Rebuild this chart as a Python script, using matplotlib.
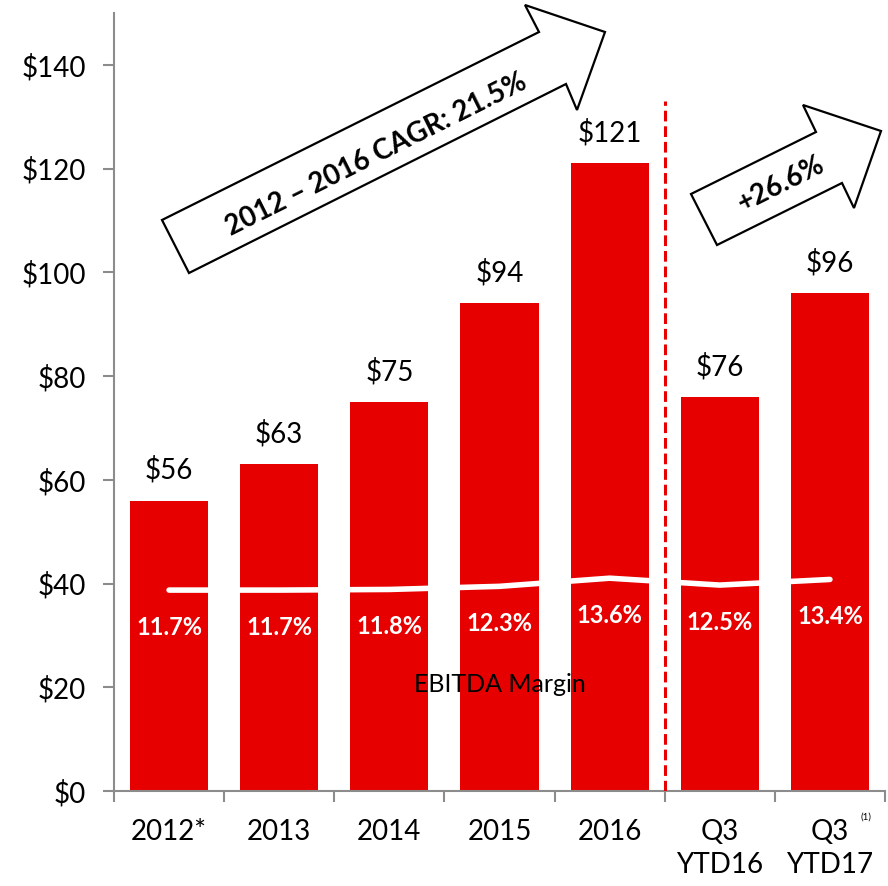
import numpy as np
import matplotlib.pyplot as plt
from matplotlib.patches import Polygon

plt.rcParams['font.family'] = ['Lato', 'DejaVu Sans']

# EBITDA ($M) and EBITDA margin (%)
categories = ["2012*", "2013", "2014", "2015", "2016", "Q3\nYTD16", "Q3\nYTD17"]
ebitda = [56, 63, 75, 94, 121, 76, 96]
margin = [11.7, 11.7, 11.8, 12.3, 13.6, 12.5, 13.4]
yticks = [0, 20, 40, 60, 80, 100, 120, 140]

RED = "#E60000"
GRAY = "#8C8C8C"

W, H = 888, 886
fig = plt.figure(figsize=(W / 100, H / 100), dpi=100)
ax = fig.add_axes([114 / W, 1 - 791 / H, (885 - 114) / W, (791 - 13) / H])

x = np.arange(len(categories))
ax.bar(x, ebitda, width=0.71, color=RED, zorder=2)
for xi, v in zip(x, ebitda):
    ax.annotate(f"${v}", (xi, v), xytext=(0, 12), textcoords="offset points",
                ha="center", va="bottom", fontsize=20)

ax.set_xlim(-0.5, len(categories) - 0.5)
ax.set_ylim(0, 150)
ax.set_yticks(yticks)
ax.set_yticklabels([f"${t}" for t in yticks])
ax.set_xticks(x)
ax.set_xticklabels(categories, fontsize=20, linespacing=1.35)
ax.set_xticks(np.arange(-0.5, len(categories)), minor=True)
ax.tick_params(axis="x", which="major", length=0, pad=20)
ax.tick_params(axis="x", which="minor", length=8, width=1.5, color=GRAY)
ax.tick_params(axis="y", length=8, width=1.5, color=GRAY, labelsize=20, pad=12)
for s in ["top", "right"]:
    ax.spines[s].set_visible(False)
for s in ["left", "bottom"]:
    ax.spines[s].set_color(GRAY)
    ax.spines[s].set_linewidth(1.5)

ax.text(3, 20.5, "EBITDA Margin", ha="center", va="center", fontsize=18, zorder=5)

# footnote marker on the last label
ax.annotate("(1)", (6, 0), xytext=(26, -19), textcoords="offset points",
            ha="center", va="center", fontsize=7, annotation_clip=False)

# margin line on a secondary scale
ax2 = ax.twinx()
ax2.set_ylim(-20.4, 103.9)
ax2.axis("off")
ax2.plot(x, margin, color="white", lw=4, solid_capstyle="round", zorder=3)
for xi, m in zip(x, margin):
    ax2.annotate(f"{m}%", (xi, m), xytext=(0, -27), textcoords="offset points",
                 ha="center", va="center", color="white", fontsize=17,
                 fontweight="bold")

# divider between full years and YTD
ax2.plot([4.5, 4.5], [0, 133], transform=ax.transData, color=RED, lw=2.2,
         linestyle=(0, (3.5, 1.6)), zorder=4)


def px(pts):
    return [(a / W, 1 - b / H) for a, b in pts]


big_arrow = [(162, 220), (539, 32), (525, 5), (605, 32), (577, 110),
             (566, 84), (189, 273)]
small_arrow = [(691, 194), (816, 132), (803, 105), (881, 131), (854, 208),
               (842, 183), (717, 245)]
for pts in (big_arrow, small_arrow):
    fig.add_artist(Polygon(px(pts), closed=True, facecolor="white",
                           edgecolor="black", lw=1.6, transform=fig.transFigure))

fig.text(376 / W, 1 - 155 / H, "2012 \u2013 2016 CAGR: 21.5%", rotation=26.5,
         rotation_mode="anchor", ha="center", va="center", fontsize=20,
         fontweight="bold")
fig.text(781 / W, 1 - 184 / H, "+26.6%", rotation=26.5, rotation_mode="anchor",
         ha="center", va="center", fontsize=20, fontweight="bold")

fig.savefig("out.png", dpi=100)
